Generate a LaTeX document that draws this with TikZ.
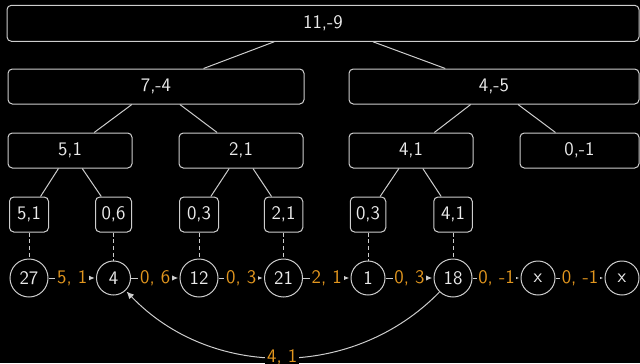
\documentclass[tikz,border=0pt]{standalone}
\usepackage{fontspec}
\usetikzlibrary{arrows.meta}
\definecolor{lc}{RGB}{205,205,205}
\definecolor{tc}{RGB}{235,235,235}
\definecolor{orng}{RGB}{226,150,30}
\tikzset{
  box/.style={draw=lc, line width=0.6pt, rounded corners=2.6pt, text=tc, inner sep=0pt,
              minimum height=21pt},
  circ/.style={draw=lc, line width=0.6pt, circle, text=tc, inner sep=0pt, minimum size=20.4pt},
  bigcirc/.style={circ, minimum size=22.8pt},
  lab/.style={fill=black, text=orng, inner sep=1pt},
  conn/.style={draw=lc, line width=0.6pt},
  dsh/.style={draw=lc, line width=0.6pt, dash pattern=on 2.4pt off 1.6pt},
  arr/.style={draw=lc, line width=0.6pt, -{Latex[length=4.4pt,width=4pt]}, shorten >=0.8pt}
}
\begin{document}
\begin{tikzpicture}[x=0.6pt, y=0.6pt, font=\sffamily\fontsize{11.5}{13}\selectfont]
\useasboundingbox (0,0) rectangle (640,-363);
\fill[black] (0,0) rectangle (640,-363);
% tree
\node[box, minimum width=632*0.6pt, minimum height=36*0.6pt] (t) at (323,-23.3) {11,-9};
\node[box, minimum width=296*0.6pt] (a) at (156,-86.5) {7,-4};
\node[box, minimum width=290*0.6pt] (b) at (494,-86.5) {4,-5};
\node[box, minimum width=124*0.6pt] (c1) at (70,-150.5) {5,1};
\node[box, minimum width=124*0.6pt] (c2) at (241,-150.5) {2,1};
\node[box, minimum width=124*0.6pt] (c3) at (411,-150.5) {4,1};
\node[box, minimum width=119*0.6pt] (c4) at (579.5,-150.5) {0,-1};
\node[box, minimum width=39*0.6pt] (d1) at (29,-214.5) {5,1};
\node[box, minimum width=36*0.6pt] (d2) at (113.5,-214.5) {0,6};
\node[box, minimum width=39*0.6pt] (d3) at (199,-214.5) {0,3};
\node[box, minimum width=38.5*0.6pt] (d4) at (283.5,-214.5) {2,1};
\node[box, minimum width=35.5*0.6pt] (d5) at (368,-214.5) {0,3};
\node[box, minimum width=38.5*0.6pt] (d6) at (453,-214.5) {4,1};
\draw[conn] (t) -- (a);
\draw[conn] (t) -- (b);
\draw[conn] (a) -- (c1);
\draw[conn] (a) -- (c2);
\draw[conn] (b) -- (c3);
\draw[conn] (b) -- (c4);
\draw[conn] (c1) -- (d1);
\draw[conn] (c1) -- (d2);
\draw[conn] (c2) -- (d3);
\draw[conn] (c2) -- (d4);
\draw[conn] (c3) -- (d5);
\draw[conn] (c3) -- (d6);
% list
\node[bigcirc] (n1) at (29,-278) {27};
\node[circ] (n2) at (113.5,-278) {4};
\node[bigcirc] (n3) at (199,-278) {12};
\node[bigcirc] (n4) at (283.5,-278) {21};
\node[circ] (n5) at (368,-278) {1};
\node[bigcirc] (n6) at (453,-278) {18};
\node[circ] (n7) at (538,-278) {x};
\node[circ] (n8) at (622,-278) {x};
\draw[dsh] (d1) -- (n1);
\draw[dsh] (d2) -- (n2);
\draw[dsh] (d3) -- (n3);
\draw[dsh] (d4) -- (n4);
\draw[dsh] (d5) -- (n5);
\draw[dsh] (d6) -- (n6);
\draw[arr] (n1) -- node[lab] {5, 1} (n2);
\draw[arr] (n2) -- node[lab] {0, 6} (n3);
\draw[arr] (n3) -- node[lab] {0, 3} (n4);
\draw[arr] (n4) -- node[lab] {2, 1} (n5);
\draw[arr] (n5) -- node[lab] {0, 3} (n6);
\draw[arr] (n6) -- node[lab] {0, -1} (n7);
\draw[arr] (n7) -- node[lab] {0, -1} (n8);
\draw[arr] (n6) to[bend left=46] node[lab] {4, 1} (n2);
\end{tikzpicture}
\end{document}
